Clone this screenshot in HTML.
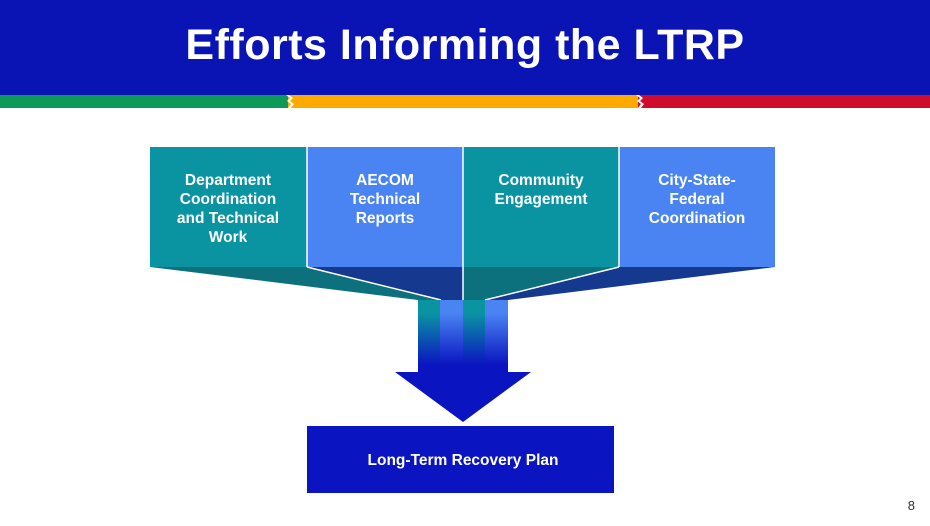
<!DOCTYPE html>
<html><head><style>
body{margin:0;width:930px;height:526px;background:#fff;overflow:hidden;font-family:"Liberation Sans",sans-serif;position:relative}
.hdr{position:absolute;left:0;top:0;width:930px;height:95px;background:#0a14b4}
.title{position:absolute;left:0;top:21px;width:930px;text-align:center;color:#fff;font-weight:bold;font-size:43px;letter-spacing:0.5px}
.lbl{position:absolute;top:171px;width:150px;text-align:center;color:#fff;font-weight:bold;font-size:15.5px;line-height:19px}
.pg{position:absolute;right:15px;top:498px;font-size:13px;color:#333}
</style></head><body>
<div class="hdr"></div>
<div class="title">Efforts Informing the LTRP</div>
<svg width="930" height="526" style="position:absolute;left:0;top:0">
<defs>
<linearGradient id="f" x1="0" y1="300" x2="0" y2="365" gradientUnits="userSpaceOnUse"><stop offset="0.2" stop-color="#0a14c0" stop-opacity="0"/><stop offset="1" stop-color="#0a14c0" stop-opacity="1"/></linearGradient>
</defs>
<rect x="0" y="95" width="288" height="13" fill="#0c9a5a"/>
<rect x="288" y="95" width="350" height="13" fill="#fdaa00"/>
<rect x="638" y="95" width="292" height="13" fill="#d00c2c"/>
<path d="M286,95 l4,3 l-3,3 l4,3 l-3,4 h3 l3,-4 l-4,-3 l3,-3 l-4,-3z" fill="#fff"/>
<path d="M636,95 l4,3 l-3,3 l4,3 l-3,4 h3 l3,-4 l-4,-3 l3,-3 l-4,-3z" fill="#fff"/>
<rect x="150" y="147" width="157" height="120" fill="#0a94a2"/>
<rect x="307" y="147" width="156" height="120" fill="#4a84f2"/>
<rect x="463" y="147" width="156" height="120" fill="#0a94a2"/>
<rect x="619" y="147" width="156" height="120" fill="#4a84f2"/>
<polygon points="150,267 307,267 441,300 418,300" fill="#0c717c"/>
<polygon points="307,267 463,267 463,300 441,300" fill="#14398e"/>
<polygon points="463,267 619,267 485,300 463,300" fill="#0c717c"/>
<polygon points="619,267 775,267 508,300 485,300" fill="#14398e"/>
<line x1="307" y1="147" x2="307" y2="267" stroke="#fff" stroke-width="1.5"/>
<line x1="463" y1="147" x2="463" y2="300" stroke="#fff" stroke-width="1.5"/>
<line x1="619" y1="147" x2="619" y2="267" stroke="#fff" stroke-width="1.5"/>
<line x1="307" y1="267" x2="441" y2="300" stroke="#fff" stroke-width="1.5"/>
<line x1="619" y1="267" x2="485" y2="300" stroke="#fff" stroke-width="1.5"/>
<rect x="418" y="300" width="22" height="72" fill="#0a94a2"/>
<rect x="440" y="300" width="23" height="72" fill="#4a84f2"/>
<rect x="463" y="300" width="22" height="72" fill="#0a94a2"/>
<rect x="485" y="300" width="23" height="72" fill="#4a84f2"/>
<rect x="418" y="300" width="90" height="73" fill="url(#f)"/>
<polygon points="395,372 531,372 463,422" fill="#0a14c0"/>
<rect x="307" y="426" width="307" height="67" fill="#0a14c0"/>
<text x="463" y="465" text-anchor="middle" fill="#fff" font-family="Liberation Sans" font-weight="bold" font-size="15.5">Long-Term Recovery Plan</text>
</svg>
<div class="lbl" style="left:153px">Department<br>Coordination<br>and Technical<br>Work</div>
<div class="lbl" style="left:310px">AECOM<br>Technical<br>Reports</div>
<div class="lbl" style="left:466px">Community<br>Engagement</div>
<div class="lbl" style="left:622px">City-State-<br>Federal<br>Coordination</div>
<div class="pg">8</div>
</body></html>
